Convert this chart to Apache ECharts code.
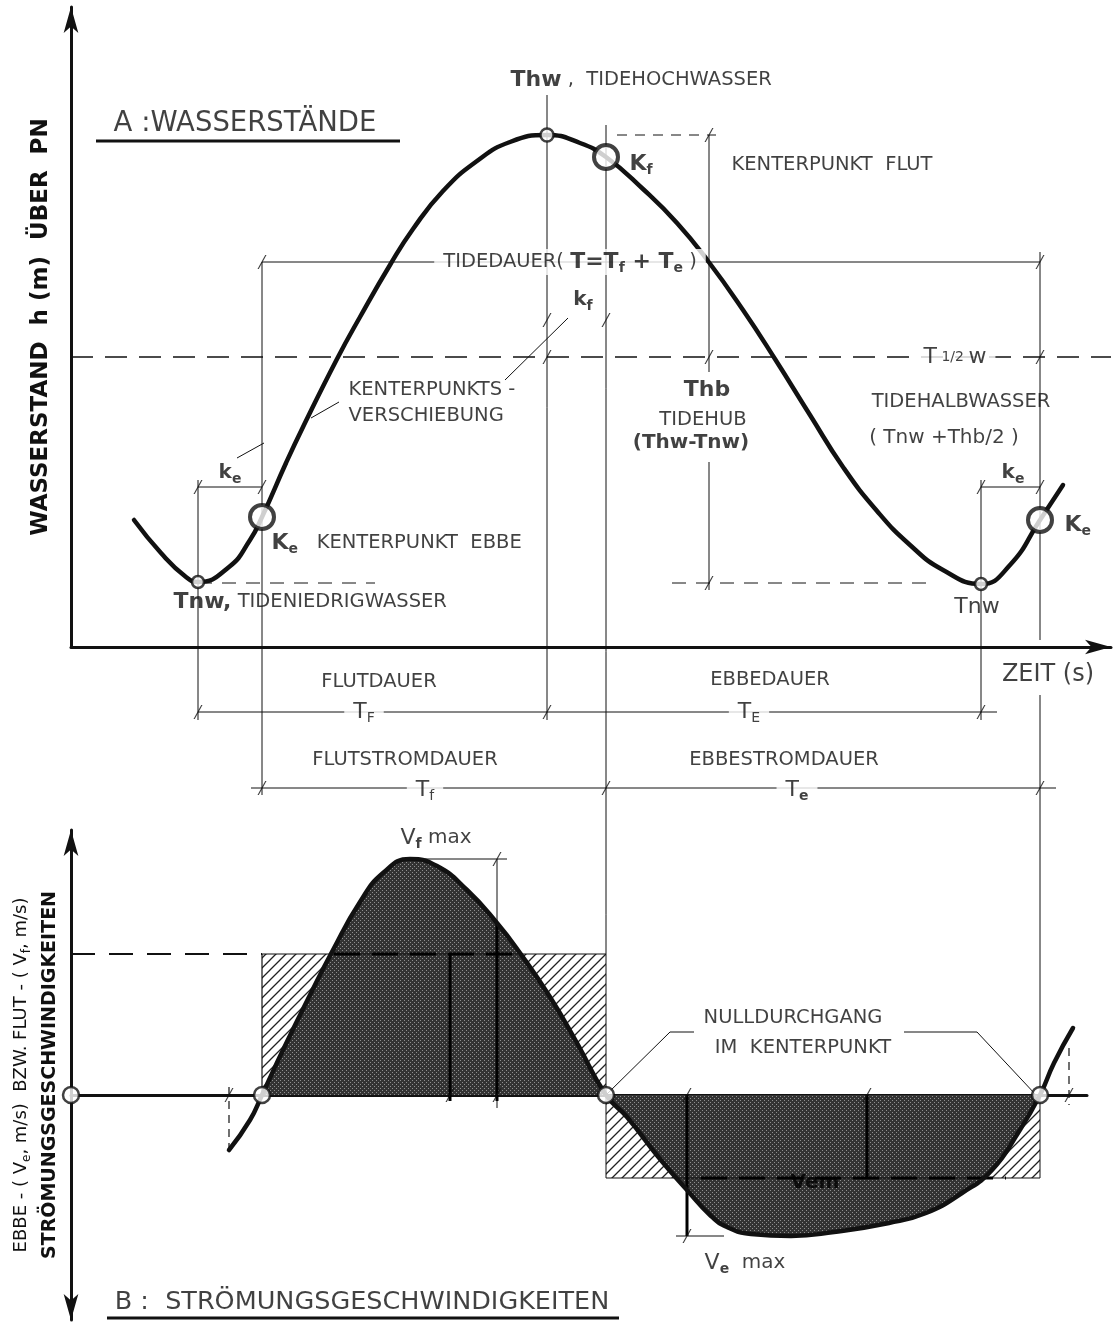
<!DOCTYPE html>
<html>
<head>
<meta charset="utf-8">
<title>Wasserstände und Strömungsgeschwindigkeiten</title>
<script src="https://cdn.jsdelivr.net/npm/echarts@6/dist/echarts.min.js"></script>
<style>
  html, body { margin: 0; background: #fff; }
  #chart { width: 1116px; height: 1322px; }
</style>
</head>
<body>
<div id="chart"></div>
<script>
  // --- Daten (Zeit in willkürlichen Einheiten, h in m, v in m/s) ---
  const tideTime = [6.3, 9.0, 11.5, 12.7, 15.8, 17.9, 19.1, 21.5, 23.2, 26.6, 28.9, 31.9, 34.2, 37.2, 40.6,
    43.9, 47.6, 50.9, 53.5, 57.2, 60.6, 63.7, 67.2, 70.4, 73.9, 77.2, 80.6, 83.9, 87.2, 91.0, 93.9, 96.9, 99.2]
  const tideLevel = [1.27, 0.94, 0.70, 0.65, 0.80, 1.07, 1.30, 1.84, 2.20, 2.88, 3.30, 3.82, 4.18, 4.56, 4.86,
    5.05, 5.12, 5.04, 4.90, 4.58, 4.24, 3.86, 3.37, 2.88, 2.32, 1.80, 1.36, 1.02, 0.77, 0.63, 0.82, 1.27, 1.62]

  const velTime = [15.8, 17.9, 19.1, 21.2, 23.7, 26.2, 28.9, 31.2, 33.9, 36.6, 39.6, 42.6, 44.9, 47.9, 50.6,
    53.5, 55.6, 58.9, 61.6, 63.9, 65.6, 68.0, 72.0, 76.3, 81.8, 85.5, 89.1, 92.1, 94.7, 96.9, 98.3, 100.2]
  const velValue = [-0.55, -0.25, 0, 0.45, 0.96, 1.45, 1.93, 2.22, 2.36, 2.29, 2.05, 1.72, 1.42, 0.98, 0.52,
    0, -0.22, -0.64, -0.95, -1.20, -1.32, -1.39, -1.41, -1.37, -1.28, -1.18, -0.98, -0.75, -0.38, 0, 0.32, 0.67]

  // Tnw, Ke, Thw, Kf, Tnw, Ke
  const eventTime = [12.7, 19.1, 47.6, 53.5, 91.0, 96.9]
  const eventLevel = [0.65, 1.30, 5.12, 4.90, 0.63, 1.27]
  const halfTideLevel = 2.90
  const meanFlood = 1.41
  const meanEbb = -0.83
  const floodMax = 2.36
  const ebbMax = -1.41

  const FONT = 'DejaVu Sans'
  const INK = '#111'

  // Schraffur und Rasterfläche als Muster
  const hatchCanvas = document.createElement('canvas')
  hatchCanvas.width = hatchCanvas.height = 10
  const hg = hatchCanvas.getContext('2d')
  hg.strokeStyle = '#222'
  hg.lineWidth = 1.3
  hg.beginPath()
  hg.moveTo(0, 10); hg.lineTo(10, 0)
  hg.moveTo(-1, 1); hg.lineTo(1, -1)
  hg.moveTo(9, 11); hg.lineTo(11, 9)
  hg.stroke()

  const screenCanvas = document.createElement('canvas')
  screenCanvas.width = screenCanvas.height = 4
  const sg = screenCanvas.getContext('2d')
  sg.fillStyle = '#333'
  sg.fillRect(0, 0, 4, 4)
  sg.fillStyle = '#8f8f8f'
  sg.fillRect(0, 0, 1, 1)
  sg.fillRect(2, 2, 1, 1)

  const pts = (t, v) => t.map((x, i) => [x, v[i]])
  const tidePts = pts(tideTime, tideLevel)
  const velPts = pts(velTime, velValue)
  const iKe1 = velTime.indexOf(eventTime[1])
  const iKf = velTime.indexOf(eventTime[3])
  const iKe2 = velTime.indexOf(eventTime[5])

  const series = []
  const seg = (g, data, width, type, extra) => {
    series.push(Object.assign({
      type: 'line', xAxisIndex: g, yAxisIndex: g, data: data, symbol: 'none', clip: false, silent: true,
      lineStyle: { color: INK, width: width || 1, type: type || 'solid' },
    }, extra || {}))
  }

  // Schraffierte Rechtecke (mittlere Geschwindigkeiten)
  const hatchArea = { color: { image: hatchCanvas, repeat: 'repeat' }, opacity: 1 }
  seg(1, [[eventTime[1], meanFlood], [eventTime[3], meanFlood]], 1.2, 'solid', { areaStyle: hatchArea })
  seg(1, [[eventTime[3], meanEbb], [eventTime[5], meanEbb]], 1.2, 'solid', { areaStyle: hatchArea })

  // --- Teil A: Hilfslinien ---
  seg(0, [[2.5, 5.06], [32.9, 5.06]], 3)
  seg(0, [[eventTime[0], 1.67], [eventTime[0], -0.73]])
  seg(0, [[eventTime[1], 3.85], [eventTime[1], -1.48]])
  seg(0, [[eventTime[2], 5.52], [eventTime[2], -0.73]])
  seg(0, [[eventTime[3], 5.22], [eventTime[3], -5.31]])
  seg(0, [[63.8, eventLevel[2]], [63.8, 2.75]])
  seg(0, [[63.8, 1.85], [63.8, 0.57]])
  seg(0, [[eventTime[4], 1.67], [eventTime[4], -0.73]])
  seg(0, [[eventTime[5], 3.95], [eventTime[5], 0.07]])
  seg(0, [[eventTime[5], -0.48], [eventTime[5], -5.31]])
  seg(0, [[eventTime[1], 3.85], [eventTime[5], 3.85]])
  seg(0, [[eventTime[0], 1.60], [eventTime[1], 1.60]])
  seg(0, [[eventTime[4], 1.60], [eventTime[5], 1.60]])
  seg(0, [[0, halfTideLevel], [104, halfTideLevel]], 1.6, [22, 12])
  seg(0, [[54.6, eventLevel[2]], [64.5, eventLevel[2]]], 1, [10, 8])
  seg(0, [[eventTime[0], 0.64], [30.4, 0.64]], 1, [14, 10])
  seg(0, [[60.1, 0.64], [86.0, 0.64]], 1, [14, 10])
  seg(0, [[eventTime[0], -0.65], [eventTime[2], -0.65]])
  seg(0, [[eventTime[2], -0.65], [92.6, -0.65]])
  seg(0, [[18.0, -1.41], [eventTime[3], -1.41]])
  seg(0, [[eventTime[3], -1.41], [98.5, -1.41]])
  seg(0, [[49.7, 3.29], [43.4, 2.67]])
  seg(0, [[24.0, 2.29], [26.8, 2.45]])
  seg(0, [[16.6, 1.89], [19.3, 2.04]])

  // --- Teil B: Hilfslinien ---
  seg(1, [[0, meanFlood], [eventTime[1], meanFlood]], 1.8, [24, 14])
  seg(1, [[eventTime[1], 0], [eventTime[1], meanFlood]], 1.2)
  seg(1, [[35.4, floodMax], [43.6, floodMax]])
  seg(1, [[42.6, floodMax], [42.6, -0.13]])
  seg(1, [[60.5, ebbMax], [65.3, ebbMax]])
  seg(1, [[61.6, meanEbb], [61.6, ebbMax]])
  seg(1, [[15.8, 0.08], [15.8, -0.55]], 1.2, [8, 6])
  seg(1, [[99.8, 0.47], [99.8, -0.10]], 1.2, [8, 6])
  seg(1, [[eventTime[3], 0], [59.9, 0.63], [62.3, 0.63]])
  seg(1, [[83.3, 0.63], [90.6, 0.63], [96.5, 0]])
  seg(1, [[3.6, -2.23], [54.8, -2.23]], 3)

  // Gerasterte Flächen Flut / Ebbe
  const screenArea = { color: { image: screenCanvas, repeat: 'repeat' }, opacity: 1 }
  seg(1, velPts.slice(iKe1, iKf + 1), 0, 'solid', { smooth: 0.5, areaStyle: screenArea, lineStyle: { width: 0 } })
  seg(1, velPts.slice(iKf, iKe2 + 1), 0, 'solid', { smooth: 0.5, areaStyle: screenArea, lineStyle: { width: 0 } })

  // Vfm / Vem Markierungen in der Fläche
  const thick = { lineStyle: { color: '#000', width: 3 } }
  const thickDash = { lineStyle: { color: '#000', width: 3, type: [26, 12] } }
  seg(1, [[37.9, meanFlood], [37.9, -0.06]], 3, 'solid', thick)
  seg(1, [[42.6, 1.72], [42.6, -0.06]], 3, 'solid', thick)
  seg(1, [[26.3, meanFlood], [44.6, meanFlood]], 3, 'solid', thickDash)
  seg(1, [[61.6, 0], [61.6, ebbMax]], 3, 'solid', thick)
  seg(1, [[79.6, 0], [79.6, meanEbb]], 3, 'solid', thick)
  seg(1, [[63.0, meanEbb], [93.5, meanEbb]], 3, 'solid', thickDash)

  // Kurven
  seg(0, tidePts, 4.5, 'solid', { smooth: 0.5, lineStyle: { color: INK, width: 4.5, cap: 'round' } })
  seg(1, velPts, 4.5, 'solid', { smooth: 0.5, lineStyle: { color: INK, width: 4.5, cap: 'round' } })

  // Maßstriche
  const tick = (g, data) => series.push({
    type: 'scatter', xAxisIndex: g, yAxisIndex: g, clip: false, silent: true, z: 3,
    symbol: 'path://M0,14 L9,0 L10.5,0 L1.5,14 Z', symbolSize: [9, 14],
    itemStyle: { color: INK }, data: data,
  })
  tick(0, [[eventTime[1], 3.85], [eventTime[5], 3.85], [eventTime[2], 3.27], [eventTime[3], 3.27],
    [eventTime[0], 1.60], [eventTime[1], 1.60], [eventTime[4], 1.60], [eventTime[5], 1.60],
    [63.8, eventLevel[2]], [63.8, 0.64], [63.8, halfTideLevel], [eventTime[5], halfTideLevel],
    [eventTime[2], halfTideLevel], [eventTime[0], -0.65], [eventTime[2], -0.65], [eventTime[4], -0.65],
    [eventTime[1], -1.41], [eventTime[3], -1.41], [eventTime[5], -1.41]])
  tick(1, [[42.6, floodMax], [61.6, ebbMax], [37.9, 0], [42.6, 0], [61.6, 0], [79.6, 0], [15.8, 0], [99.8, 0]])

  // Kennpunkte
  const big = [false, true, false, true, false, true]
  series.push({
    type: 'scatter', xAxisIndex: 0, yAxisIndex: 0, silent: true, z: 5,
    data: eventTime.map((t, i) => ({
      value: [t, eventLevel[i]],
      symbolSize: big[i] ? 24 : (i === 2 ? 13 : 12),
      itemStyle: { color: '#fff', borderColor: INK, borderWidth: big[i] ? 4 : 2.5 },
    })),
  })
  series.push({
    type: 'scatter', xAxisIndex: 1, yAxisIndex: 1, silent: true, z: 5, symbolSize: 16,
    itemStyle: { color: '#fff', borderColor: INK, borderWidth: 2.5 },
    data: [[0, 0], [eventTime[1], 0], [eventTime[3], 0], [eventTime[5], 0]],
  })

  // Beschriftungen
  const tok = (size, extra) => Object.assign({ fontFamily: FONT, fontSize: size, color: INK }, extra || {})
  const rich = {
    a: tok(19.5), A: tok(27.5), t: tok(25.5), L: tok(22), Z: tok(24), B: tok(22, { fontWeight: 'bold' }),
    m: tok(20), M: tok(20, { fontWeight: 'bold' }), h: tok(14),
    s: tok(14, { padding: [12, 0, 0, 0] }),
    S: tok(14, { padding: [12, 0, 0, 0], fontWeight: 'bold' }),
    v: tok(20, { fontWeight: 'bold', color: '#000' }),
  }
  const labels = [
    [0, 17.4, 5.23, '{A|A :WASSERSTÄNDE}', 'c'],
    [0, 43.9, 5.67, '{B|Thw}{a| ,  TIDEHOCHWASSER}', 'l'],
    [0, 55.8, 4.83, '{B|K}{S|f}', 'l'],
    [0, 66.0, 4.82, '{a|KENTERPUNKT  FLUT}', 'l'],
    [0, 49.9, 3.85, '{a|TIDEDAUER( }{B|T=T}{S|f}{B| + T}{S|e}{a| )}', 'c', true],
    [0, 51.2, 3.47, '{M|k}{S|f}', 'c'],
    [0, 27.7, 2.44, '{a|KENTERPUNKTS -}\n{a|VERSCHIEBUNG}', 'l'],
    [0, 15.9, 1.74, '{M|k}{S|e}', 'c'],
    [0, 94.2, 1.74, '{M|k}{S|e}', 'c'],
    [0, 63.6, 2.57, '{B|Thb}', 'c'],
    [0, 63.2, 2.27, '{a|TIDEHUB}', 'c'],
    [0, 62.0, 2.04, '{M|(Thw-Tnw)}', 'c'],
    [0, 88.4, halfTideLevel, '{L|T}{h| 1/2 }{L|w}', 'c', true],
    [0, 89.0, 2.45, '{a|TIDEHALBWASSER}', 'c'],
    [0, 87.3, 2.09, '{m|( Tnw +Thb/2 )}', 'c'],
    [0, 20.0, 1.04, '{B|K}{S|e}{a|   KENTERPUNKT  EBBE}', 'l'],
    [0, 10.2, 0.45, '{B|Tnw,}{a| TIDENIEDRIGWASSER}', 'l'],
    [0, 90.6, 0.40, '{L|Tnw}', 'c'],
    [0, 99.3, 1.22, '{B|K}{S|e}', 'l'],
    [0, 97.7, -0.28, '{Z|ZEIT (s)}', 'c'],
    [0, 30.8, -0.35, '{a|FLUTDAUER}', 'c'],
    [0, 29.3, -0.65, '{L|T}{s|F}', 'c', true],
    [0, 69.9, -0.33, '{a|EBBEDAUER}', 'c'],
    [0, 67.8, -0.65, '{L|T}{s|E}', 'c', true],
    [0, 33.4, -1.13, '{a|FLUTSTROMDAUER}', 'c'],
    [0, 35.4, -1.43, '{L|T}{s|f}', 'c', true],
    [0, 71.3, -1.13, '{a|EBBESTROMDAUER}', 'c'],
    [0, 72.6, -1.43, '{L|T}{S|e}', 'c', true],
    [1, 36.5, 2.57, '{L|V}{S|f}{m| max}', 'c'],
    [1, 72.2, 0.77, '{a|NULLDURCHGANG}', 'c'],
    [1, 73.2, 0.47, '{a|IM  KENTERPUNKT}', 'c'],
    [1, 74.4, -0.88, '{v|Vem}', 'c'],
    [1, 67.4, -1.68, '{L|V}{S|e}{m|  max}', 'c'],
    [1, 29.1, -2.07, '{t|B :  STRÖMUNGSGESCHWINDIGKEITEN}', 'c'],
  ]
  ;[0, 1].forEach(g => {
    series.push({
      type: 'scatter', xAxisIndex: g, yAxisIndex: g, clip: false, silent: true, z: 10,
      symbolSize: 1, itemStyle: { color: 'transparent' },
      data: labels.filter(l => l[0] === g).map(l => ({
        value: [l[1], l[2]],
        label: {
          show: true, formatter: l[3], rich: rich, lineHeight: 26,
          position: l[4] === 'l' ? 'right' : 'inside', distance: 0,
          backgroundColor: l[5] ? '#fff' : 'transparent', padding: l[5] ? [0, 9] : 0,
        },
      })),
    })
  })

  const axisLine = sym => ({ show: true, onZero: true, symbol: sym, symbolSize: [11, 26], lineStyle: { color: INK, width: 3 } })
  const hidden = { axisTick: { show: false }, axisLabel: { show: false }, splitLine: { show: false } }

  const chart = echarts.init(document.getElementById('chart'))
  chart.setOption({
    animation: false,
    backgroundColor: '#fff',
    grid: [
      { left: 71, top: 7, width: 1040, height: 640, outerBoundsMode: 'none', containLabel: false },
      { left: 71, top: 830, width: 1016, height: 490, outerBoundsMode: 'none', containLabel: false },
    ],
    xAxis: [
      Object.assign({ gridIndex: 0, type: 'value', min: 0, max: 104, axisLine: axisLine(['none', 'arrow']) }, hidden),
      Object.assign({ gridIndex: 1, type: 'value', min: 0, max: 101.6, axisLine: axisLine(['none', 'none']) }, hidden),
    ],
    yAxis: [
      Object.assign({
        gridIndex: 0, type: 'value', min: 0, max: 6.4, axisLine: axisLine(['none', 'arrow']),
        name: 'WASSERSTAND  h (m)  ÜBER  PN', nameLocation: 'middle', nameGap: 18, nameRotate: 90,
        nameTextStyle: { fontFamily: FONT, fontSize: 23, fontWeight: 'bold', color: INK },
      }, hidden),
      Object.assign({
        gridIndex: 1, type: 'value', min: -2.25, max: 2.65, axisLine: axisLine(['arrow', 'arrow']),
        name: '{a|EBBE - ( V}{e|e}{a|, m/s)  BZW. FLUT - ( V}{e|f}{a|, m/s)}\n{b|STRÖMUNGSGESCHWINDIGKEITEN}',
        nameLocation: 'middle', nameGap: 6, nameRotate: 90,
        nameTextStyle: {
          lineHeight: 29,
          rich: {
            a: tok(18), e: tok(12, { padding: [10, 0, 0, 0] }),
            b: tok(19, { fontWeight: 'bold' }),
          },
        },
      }, hidden),
    ],
    series: series,
  })
</script>
</body>
</html>
